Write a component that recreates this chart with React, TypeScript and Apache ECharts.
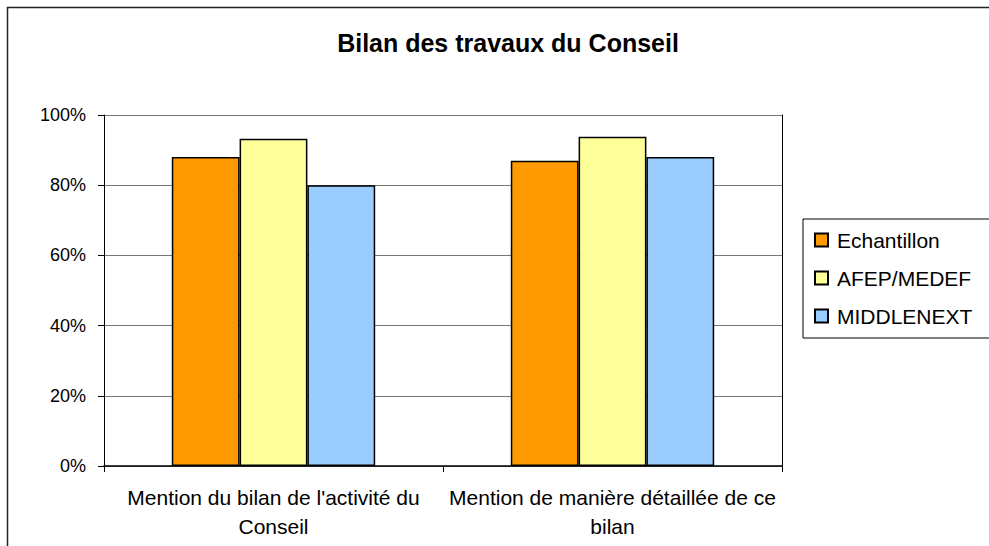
import React, { useEffect, useRef } from "react";
import * as echarts from "echarts";

const categories = [
  "Mention du bilan de l'activité du\nConseil",
  "Mention de manière détaillée de ce\nbilan",
];
const seriesNames = ["Echantillon", "AFEP/MEDEF", "MIDDLENEXT"];
const echantillon = [88, 87];
const afepMedef = [93.2, 93.8];
const middlenext = [80, 88];
const seriesColors = ["#FF9900", "#FFFF99", "#99CCFF"];
const titleText = "Bilan des travaux du Conseil";

const FONT = "'Liberation Sans', Arial, sans-serif";

export default function App() {
  const ref = useRef<HTMLDivElement>(null);
  useEffect(() => {
    if (!ref.current) return;
    const chart = echarts.init(ref.current, undefined, { renderer: "svg" });
    const values = [echantillon, afepMedef, middlenext];
    chart.setOption({
      animation: false,
      backgroundColor: "#fff",
      textStyle: { fontFamily: FONT },
      title: {
        text: titleText,
        left: 503,
        top: 25,
        textAlign: "center",
        textStyle: { fontFamily: FONT, fontSize: 25, fontWeight: "bold", color: "#000" },
      },
      graphic: [
        {
          type: "rect",
          shape: { x: 7.5, y: 7.5, width: 1000, height: 600 },
          style: { fill: "none", stroke: "#222", lineWidth: 1.5 },
          silent: true,
        },
      ],
      legend: {
        orient: "vertical",
        left: 803,
        top: 219,
        padding: [9, 30, 10, 11],
        borderColor: "#000",
        borderWidth: 1,
        itemWidth: 13,
        itemHeight: 13,
        itemGap: 14,
        textStyle: {
          fontFamily: FONT,
          fontSize: 21,
          color: "#000",
          lineHeight: 24,
          padding: [0, 0, 0, 4],
        },
        data: seriesNames.map((n) => ({ name: n, icon: "rect" })),
      },
      grid: { left: 104, right: 207, top: 115, bottom: 80 },
      xAxis: {
        type: "category",
        data: categories,
        axisLine: { lineStyle: { color: "#000", width: 1.5 } },
        axisTick: { show: true, length: 6, lineStyle: { color: "#000" } },
        axisLabel: {
          fontFamily: FONT,
          fontSize: 21,
          color: "#000",
          lineHeight: 29,
          margin: 17,
          interval: 0,
        },
      },
      yAxis: [
        {
          type: "value",
          min: 0,
          max: 100,
          interval: 20,
          axisLine: { show: true, lineStyle: { color: "#000" } },
          axisTick: { show: true, length: 6, lineStyle: { color: "#000" } },
          axisLabel: {
            formatter: "{value}%",
            fontFamily: FONT,
            fontSize: 18,
            color: "#000",
            margin: 18,
          },
          splitLine: { lineStyle: { color: "#777", width: 1 } },
        },
        {
          type: "value",
          position: "right",
          min: 0,
          max: 100,
          interval: 20,
          axisLine: { show: true, lineStyle: { color: "#000" } },
          axisTick: { show: false },
          axisLabel: { show: false },
          splitLine: { show: false },
        },
      ],
      series: seriesNames.map((name, i) => ({
        name,
        type: "bar",
        data: values[i],
        barGap: "0%",
        barCategoryGap: "40%",
        itemStyle: { color: seriesColors[i], borderColor: "#000", borderWidth: 1.5 },
      })),
    });
    return () => chart.dispose();
  }, []);
  return (
    <div
      ref={ref}
      style={{ position: "absolute", left: 0, top: 0, width: 989, height: 546 }}
    />
  );
}
